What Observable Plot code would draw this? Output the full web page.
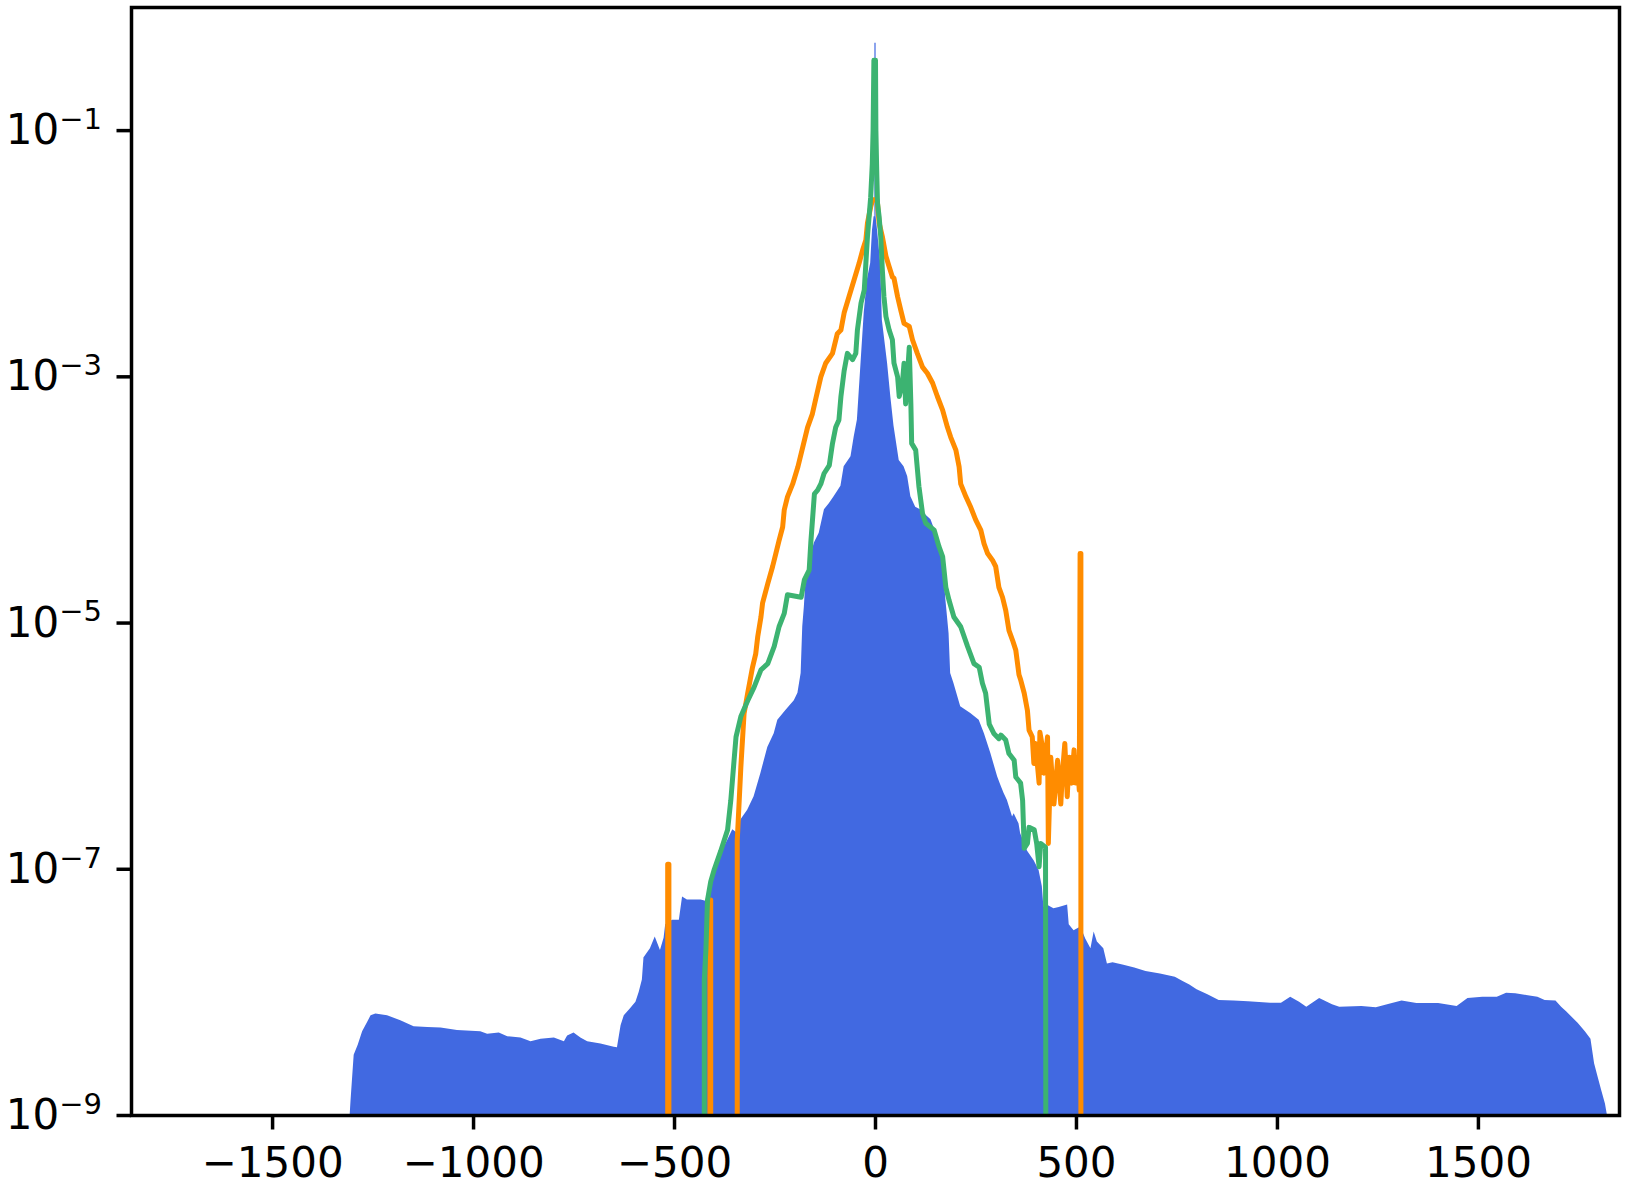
<!DOCTYPE html>
<html><head><meta charset="utf-8">
<script src="https://cdn.jsdelivr.net/npm/d3@7"></script>
<script src="https://cdn.jsdelivr.net/npm/@observablehq/plot@0.6"></script>
<style>html,body{margin:0;padding:0;background:#fff;}</style>
</head><body><div id="chart"></div>
<script>
// ---- data (x, density) ----
const xTicks = [-1500, -1000, -500, 0, 500, 1000, 1500];
const yTicks = [1e-1, 1e-3, 1e-5, 1e-7, 1e-9];
const yFloor = 1e-9;   // bottom of the log axis
const yZero = 1e-10;   // empty bins (below the axis)

const blueX = [-1307,-1305,-1301,-1297,-1287,-1276,-1263,-1255,-1243,-1214,-1181,-1148,-1114,-1081,-1040,-982,-965,-936,-915,-882,-857,-832,-799,-774,-766,-750,-733,-716,-683,-650,-642,-633,-625,-609,-596,-588,-580,-576,-574,-560,-548,-535,-526,-522,-505,-488,-480,-468,-434,-422,-410,-393,-376,-355,-343,-335,-318,-302,-285,-268,-252,-243,-223,-202,-193,-185,-181,-177,-173,-161,-152,-140,-127,-115,-103,-86,-78,-61,-53,-45,-36,-28,-20,-12,-7.5,-3.5,-1.5,-1.5,1.5,1.5,5,13,17,30,38,46,59,71,80,88,100,112,121,138,154,162,171,175,183,187,195,212,237,258,271,287,304,312,320,328,341,345,357,361,378,395,407,415,419,427,444,457,478,482,494,511,523,536,544,552,568,577,591,618,645,673,709,746,764,782,800,827,855,892,928,983,1010,1033,1055,1073,1105,1137,1155,1210,1246,1274,1310,1347,1401,1447,1474,1511,1547,1570,1593,1620,1648,1666,1693,1707,1720,1748,1766,1780,1789,1798,1807,1816,1821];
const blueY = [1e-9,1.29e-9,2.0e-9,3.09e-9,3.72e-9,4.79e-9,5.75e-9,6.46e-9,6.68e-9,6.46e-9,5.89e-9,5.25e-9,5.19e-9,5.13e-9,4.90e-9,4.79e-9,4.57e-9,4.68e-9,4.37e-9,4.27e-9,3.98e-9,4.17e-9,4.27e-9,3.98e-9,4.42e-9,4.68e-9,4.27e-9,3.98e-9,3.80e-9,3.59e-9,3.55e-9,5.37e-9,6.46e-9,7.41e-9,8.32e-9,1.0e-8,1.26e-8,1.91e-8,1.95e-8,2.26e-8,2.82e-8,2.19e-8,2.75e-8,3.55e-8,3.85e-8,3.85e-8,5.96e-8,5.62e-8,5.62e-8,5.5e-8,8.13e-8,1.17e-7,1.51e-7,2.09e-7,1.95e-7,2.51e-7,3.02e-7,3.89e-7,6.03e-7,9.77e-7,1.26e-6,1.62e-6,1.95e-6,2.34e-6,2.69e-6,3.89e-6,9.33e-6,1.35e-5,2.24e-5,3.47e-5,4.47e-5,5.37e-5,8.32e-5,9.33e-5,1.06e-4,1.29e-4,1.86e-4,2.24e-4,3.24e-4,4.47e-4,1.29e-3,3.31e-3,6.17e-3,8.32e-3,1.55e-2,2.0e-2,2.0e-2,0.513,0.513,2.0e-2,1.55e-2,8.32e-3,2.88e-3,1.29e-3,6.92e-4,3.98e-4,2.09e-4,1.86e-4,1.55e-4,1.06e-4,8.71e-5,8.32e-5,7.76e-5,6.92e-5,5.01e-5,4.17e-5,2.37e-5,1.55e-5,8.22e-6,3.89e-6,3.24e-6,2.09e-6,1.84e-6,1.62e-6,1.26e-6,8.71e-7,5.62e-7,4.79e-7,4.12e-7,3.63e-7,2.66e-7,2.82e-7,2.34e-7,1.95e-7,1.41e-7,1.17e-7,9.77e-8,7.24e-8,4.90e-8,5.13e-8,4.79e-8,4.90e-8,5.13e-8,3.55e-8,3.16e-8,3.39e-8,2.72e-8,2.26e-8,3.09e-8,2.57e-8,2.26e-8,1.70e-8,1.74e-8,1.66e-8,1.58e-8,1.48e-8,1.41e-8,1.33e-8,1.23e-8,1.15e-8,1.05e-8,9.55e-9,8.61e-9,8.51e-9,8.41e-9,8.18e-9,8.18e-9,9.12e-9,8.32e-9,7.59e-9,8.91e-9,7.94e-9,7.59e-9,7.69e-9,7.50e-9,7.94e-9,8.51e-9,8.13e-9,8.13e-9,7.69e-9,8.91e-9,9.12e-9,9.12e-9,9.86e-9,9.77e-9,9.44e-9,9.12e-9,8.61e-9,8.51e-9,7.59e-9,6.92e-9,5.62e-9,4.79e-9,4.17e-9,2.63e-9,2.04e-9,1.58e-9,1.24e-9,1e-9];

const orangeX = [-517,-517,-514,-514,-412,-412,-410,-410,-344,-344,-335,-327,-318,-306,-298,-293,-285,-281,-268,-256,-248,-240,-231,-227,-219,-206,-193,-181,-169,-157,-148,-136,-124,-107,-95,-86,-78,-66,-53,-41,-32,-24,-20,-12,-7,3,5,9,17,26,34,42,46,55,63,71,84,92,104,117,129,142,154,167,179,187,200,208,212,225,237,249,262,270,279,291,299,307,316,324,332,341,349,357,361,370,378,382,390,394,398,407,409,415,419,428,430,436,444,453,461,465,471,477,482,488,494,498,502,507,509,511,511];
const orangeY = [yZero,1.10e-7,1.10e-7,yZero,yZero,5.62e-8,5.62e-8,yZero,yZero,1.70e-7,6.76e-7,1.84e-6,2.69e-6,4.37e-6,5.62e-6,7.76e-6,1.12e-5,1.45e-5,2.09e-5,2.88e-5,3.67e-5,4.68e-5,6.03e-5,8.32e-5,1.06e-4,1.35e-4,1.86e-4,2.69e-4,3.89e-4,5.01e-4,6.76e-4,1.0e-3,1.29e-3,1.55e-3,2.24e-3,2.40e-3,3.31e-3,4.47e-3,6.17e-3,8.32e-3,1.07e-2,1.29e-2,1.78e-2,2.40e-2,2.75e-2,2.75e-2,2.57e-2,1.78e-2,1.38e-2,9.55e-3,7.85e-3,6.46e-3,6.31e-3,4.47e-3,3.47e-3,2.72e-3,2.57e-3,2.0e-3,1.55e-3,1.20e-3,1.07e-3,8.91e-4,6.92e-4,5.37e-4,3.89e-4,3.24e-4,2.54e-4,1.86e-4,1.35e-4,1.06e-4,8.71e-5,6.92e-5,5.69e-5,4.42e-5,3.67e-5,3.24e-5,2.88e-5,1.95e-5,1.62e-5,1.27e-5,8.71e-6,7.24e-6,6.03e-6,3.80e-6,3.47e-6,2.69e-6,1.95e-6,1.35e-6,1.19e-6,7.24e-7,1.05e-6,5.01e-7,1.30e-6,1.0e-6,6.03e-7,1.19e-6,1.62e-7,8.13e-7,3.39e-7,7.67e-7,3.39e-7,6.03e-7,1.05e-6,3.89e-7,8.13e-7,5.01e-7,9.33e-7,5.01e-7,8.13e-7,4.37e-7,3.67e-5,3.67e-5,yZero];

const greenX = [-426,-426,-422,-418,-410,-401,-385,-368,-360,-352,-347,-335,-318,-302,-285,-268,-252,-240,-227,-219,-185,-177,-165,-161,-152,-144,-136,-128,-115,-107,-99,-91,-86,-78,-70,-57,-49,-45,-36,-28,-24,-20,-12,-8,-6,-4,0,1,3,5,9,13,17,21,26,34,42,46,55,59,67,71,75,84,88,90,100,108,117,125,146,158,167,175,183,195,212,229,245,258,266,274,283,295,307,312,324,332,345,349,361,366,370,378,382,395,401,407,411,423,424];
const greenY = [yZero,1.26e-8,2.19e-8,5.62e-8,7.94e-8,1.0e-7,1.41e-7,2.09e-7,3.63e-7,7.59e-7,1.19e-6,1.74e-6,2.34e-6,3.02e-6,4.17e-6,4.68e-6,6.46e-6,9.33e-6,1.20e-5,1.70e-5,1.62e-5,2.24e-5,2.69e-5,4.47e-5,1.12e-4,1.20e-4,1.35e-4,1.64e-4,1.91e-4,2.88e-4,3.89e-4,4.47e-4,6.92e-4,1.12e-3,1.55e-3,1.38e-3,1.55e-3,2.40e-3,3.98e-3,5.07e-3,8.32e-3,1.38e-2,2.88e-2,5.37e-2,0.1,0.372,0.372,0.1,4.79e-2,2.57e-2,2.0e-2,1.38e-2,7.41e-3,4.47e-3,3.09e-3,2.40e-3,2.0e-3,1.29e-3,1.0e-3,6.92e-4,8.91e-4,1.29e-3,6.03e-4,1.74e-3,6.03e-4,2.88e-4,2.54e-4,1.29e-4,7.76e-5,6.46e-5,5.69e-5,4.17e-5,3.47e-5,1.95e-5,1.53e-5,1.12e-5,9.33e-6,6.46e-6,4.68e-6,4.37e-6,3.24e-6,2.69e-6,1.51e-6,1.26e-6,1.15e-6,1.23e-6,1.12e-6,8.71e-7,7.67e-7,5.62e-7,5.01e-7,3.63e-7,1.48e-7,1.62e-7,2.19e-7,2.09e-7,1.62e-7,1.05e-7,1.62e-7,1.51e-7,yZero];

// ---- tables built from the arrays ----
const blue = blueX.map((x, i) => ({x, y: blueY[i]}));
const orange = orangeX.map((x, i) => ({x, y: orangeY[i]}));
const green = greenX.map((x, i) => ({x, y: greenY[i]}));

const expOf = v => Math.round(Math.log10(v));

const chart = Plot.plot({
  width: 1625,
  height: 1184,
  marginLeft: 131,
  marginRight: 6,
  marginTop: 7,
  marginBottom: 69,
  style: {fontFamily: "'DejaVu Sans', sans-serif", fontSize: "42px", color: "black", background: "white", overflow: "visible"},
  x: {domain: [-1851, 1851]},
  y: {type: "log", domain: [1e-9, 1]},
  marks: [
    Plot.area(blue, {x1: "x", y1: () => yFloor, y2: "y", fill: "#4169e1", clip: true}),
    Plot.line(orange, {x: "x", y: "y", stroke: "#ff8c00", strokeWidth: 5, curve: "linear", strokeLinejoin: "round", clip: true}),
    Plot.line(green, {x: "x", y: "y", stroke: "#3cb371", strokeWidth: 5, curve: "linear", strokeLinejoin: "round", clip: true}),
    Plot.axisX(xTicks, {tickSize: 14.5, tickPadding: 17, strokeWidth: 3.5, fontSize: 42, label: null, tickFormat: d3.format("d")}),
    Plot.axisY(yTicks, {tickSize: 14.5, tickPadding: 15, strokeWidth: 3.5, fontSize: 42, label: null, tickFormat: v => "10^" + d3.format("d")(expOf(v))}),
    Plot.frame({stroke: "black", strokeWidth: 3.5})
  ]
});

d3.select(chart).selectAll('g[aria-label="y-axis tick label"] text').each(function() {
  const t = this.textContent;
  const parts = t.split("^");
  if (parts.length < 2) return;
  this.textContent = parts[0];
  d3.select(this).append("tspan").attr("dy", "-0.52em").attr("font-size", 29).text(parts[1]);
});

document.getElementById("chart").appendChild(chart);
</script>
</body></html>
